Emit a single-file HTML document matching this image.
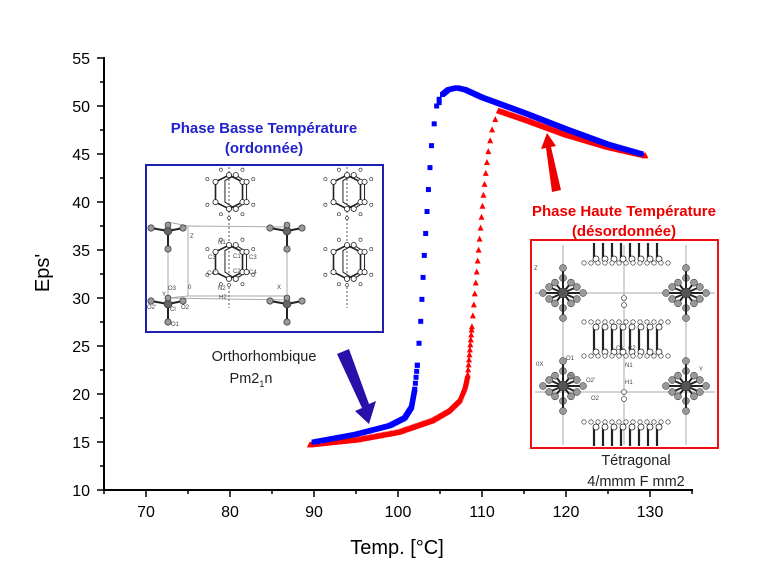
<!DOCTYPE html>
<html><head><meta charset="utf-8"><style>
html,body{margin:0;padding:0;background:#fff;width:770px;height:572px;overflow:hidden}
svg{display:block}
text{font-family:"Liberation Sans",sans-serif}
</style></head><body>
<svg id="s" width="770" height="572" viewBox="0 0 770 572" xmlns="http://www.w3.org/2000/svg">
<g id="axes" stroke="#000" stroke-width="2" fill="none">
<line x1="104" y1="57" x2="104" y2="491"/>
<line x1="103" y1="490" x2="693" y2="490"/>
</g>
<g id="ticks" stroke="#000" stroke-width="1.5"></g>
<g font-size="16" fill="#000" id="labels"></g>
<text x="397" y="554" font-size="20" text-anchor="middle">Temp. [°C]</text>
<text transform="translate(49,273) rotate(-90)" font-size="20" text-anchor="middle">Eps'</text>
<g id="data"></g>

<text x="264" y="133" font-size="15" font-weight="bold" fill="#2222cc" text-anchor="middle">Phase Basse Température</text>
<text x="264" y="153" font-size="15" font-weight="bold" fill="#2222cc" text-anchor="middle">(ordonnée)</text>
<rect x="146" y="165" width="237" height="167" fill="#fff" stroke="#2020b0" stroke-width="2"/>
<g stroke="#aaa" stroke-width="1" fill="none">
<polygon points="188,226 287,227 287,296 188,296"/>
<polyline points="168,222 188,226"/>
<line x1="168" y1="222" x2="168" y2="298"/>
<line x1="168" y1="298" x2="288" y2="300"/>
<line x1="188" y1="296" x2="168" y2="298"/>
</g>
<g stroke="#555" stroke-width="1" stroke-dasharray="2,2"><line x1="229" y1="167" x2="229" y2="308"/><line x1="347" y1="167" x2="347" y2="308"/></g>
<g id="benz" stroke="#222" stroke-width="1.6" fill="#fff"></g>
<g id="clo" stroke="#222" stroke-width="2"></g>
<g font-size="6" fill="#444">
<text x="190" y="238">Z</text><text x="218" y="244">N1</text><text x="208" y="259">C3'</text><text x="233" y="258">C1</text><text x="249" y="259">C3</text>
<text x="207" y="275">C4'</text><text x="233" y="273">C2</text><text x="249" y="274">C4</text><text x="188" y="289">0</text><text x="218" y="290">N2</text><text x="277" y="289">X</text>
<text x="219" y="299">H2</text><text x="168" y="290">O3</text><text x="162" y="296">Y</text><text x="147" y="309">O2'</text><text x="170" y="311">Cl</text><text x="181" y="309">O2</text><text x="171" y="326">O1</text>
</g>
<text x="264" y="361" font-size="14.5" fill="#222" text-anchor="middle">Orthorhombique</text>
<text x="251" y="383" font-size="14.5" fill="#222" text-anchor="middle">Pm2<tspan font-size="9" dy="4">1</tspan><tspan dy="-4">n</tspan></text>
<polygon points="337,354 349,349 369,404 376,401 369,424 355,411 362,408" fill="#2a0fa8"/>

<text x="624" y="216" font-size="15" font-weight="bold" fill="#ee0000" text-anchor="middle">Phase Haute Température</text>
<text x="624" y="236" font-size="15" font-weight="bold" fill="#ee0000" text-anchor="middle">(désordonnée)</text>
<rect x="531" y="240" width="187" height="208" fill="#fff" stroke="#ee1111" stroke-width="2"/>
<g stroke="#aaa" stroke-width="1"><line x1="563" y1="245" x2="563" y2="445"/><line x1="686" y1="245" x2="686" y2="445"/><line x1="535" y1="293" x2="715" y2="293"/><line x1="535" y1="392" x2="715" y2="392"/><line x1="624" y1="245" x2="624" y2="445"/></g>
<g id="red" stroke="#222" stroke-width="1.6"></g>
<g font-size="6" fill="#444"><text x="534" y="270">Z</text><text x="536" y="366">0X</text><text x="566" y="360">O1</text><text x="567" y="379">Cl</text><text x="586" y="382">O2'</text><text x="591" y="400">O2</text><text x="625" y="367">N1</text><text x="625" y="384">H1</text><text x="616" y="350">C1</text><text x="628" y="350">C2</text><text x="699" y="371">Y</text></g>
<text x="636" y="465" font-size="14.5" fill="#222" text-anchor="middle">Tétragonal</text>
<text x="636" y="486" font-size="14.5" fill="#222" text-anchor="middle">4/mmm F mm2</text>
<polygon points="561,190 552,192 546,148 541,149 547,133 556,146 551,147" fill="#ee0000"/>
</svg>
<script>
var NS="http://www.w3.org/2000/svg";
function X(v){return 146+(v-70)*8.4}function Y(v){return 490-(v-10)*9.6}
function el(p,t,a){var e=document.createElementNS(NS,t);for(var k in a)e.setAttribute(k,a[k]);p.appendChild(e);return e}
var tk=document.getElementById('ticks'),lb=document.getElementById('labels');
for(var v=65;v<=135;v+=5){var x=X(v),maj=v%10==0;el(tk,'line',{x1:x,y1:490,x2:x,y2:maj?497:494});
 if(maj&&v>=70&&v<=130){var t=el(lb,'text',{x:x,y:517,'text-anchor':'middle'});t.textContent=v}}
for(var v=10;v<=55;v+=2.5){var y=Y(v),maj=v%5==0;el(tk,'line',{x1:maj?97:100,y1:y,x2:104,y2:y});
 if(maj){var t=el(lb,'text',{x:90,y:y+6,'text-anchor':'end'});t.textContent=v}}
function walk(pts,step,cb){pts=pts.map(function(p){return[X(p[0]),Y(p[1])]});var carry=0;
 for(var i=0;i<pts.length-1;i++){var a=pts[i],b=pts[i+1],L=Math.hypot(b[0]-a[0],b[1]-a[1]),d=carry;
  while(d<L){cb(a[0]+(b[0]-a[0])*d/L,a[1]+(b[1]-a[1])*d/L);d+=step}carry=d-L}}
var D=document.getElementById('data');
function red(x,y){el(D,'polygon',{points:(x-3)+','+(y+2.5)+' '+(x+3)+','+(y+2.5)+' '+x+','+(y-3.5),fill:'#ff0000'})}
function blue(x,y){el(D,'rect',{x:x-2.5,y:y-2.5,width:5,height:5,fill:'#0000ff'})}
walk([[89.5,14.7],[95,15.2],[100,16],[104,17.2],[106,18.2],[107.3,19.3],[108,20.8],[108.3,22]],1.2,red);
walk([[108.3,22],[108.5,24],[108.8,27]],5,red);
walk([[108.8,27],[109.2,31],[109.7,36],[110.2,41],[110.7,45],[111.3,48],[112,49.5]],11,red);
walk([[112,49.5],[115,48.6],[120,47],[125,45.7],[129.5,44.8]],1.2,red);
walk([[90,15],[95,15.8],[99,16.7],[100.8,17.5],[101.6,18.6],[102,20.5]],1.2,blue);
walk([[102,20.5],[102.3,23]],6,blue);
walk([[102.3,23],[102.7,27.5],[103.1,34],[103.6,41],[104,46],[104.5,49.5],[105.3,51.2]],22,blue);
walk([[105.3,51.2],[106,51.7],[107,51.9],[108,51.7],[110,50.9],[115,49.3],[120,47.6],[125,46],[129,45]],1.2,blue);
blue(X(104.6),Y(50));blue(X(104.9),Y(50.7));
var B=document.getElementById('benz');
function ring(cx,cy){var s=1.35;function P(a){return a.map(function(p){return[cx+p[0]*s,cy+p[1]*s]}).map(String).join(' ')}
 el(B,'polygon',{points:P([[-10,-9],[0,-14],[10,-9],[10,6],[0,11],[-10,6]]),fill:'none'});
 el(B,'polygon',{points:P([[-3,-10],[5,-14],[13,-9],[13,6],[5,11],[-3,6]]),fill:'none','stroke-width':1});
 [[-10,-9],[0,-14],[10,-9],[10,6],[0,11],[-10,6],[5,-14],[13,-9],[13,6],[5,11]].forEach(function(p){el(B,'circle',{cx:cx+p[0]*s,cy:cy+p[1]*s,r:2.6,'stroke-width':0.8})});
 [[-16,-11],[18,-11],[-16,8],[18,8],[-6,-18],[10,-18],[-6,15],[10,15]].forEach(function(p){el(B,'circle',{cx:cx+p[0]*s,cy:cy+p[1]*s,r:1.6,'stroke-width':0.6})})}
ring(229,194);ring(347,194);ring(229,264);ring(347,264);
[[229,218],[229,285],[347,218],[347,285]].forEach(function(p){el(B,'circle',{cx:p[0],cy:p[1],r:1.5,'stroke-width':0.6})});
var C=document.getElementById('clo');
function clo(cx,cy){[[-17,-3],[15,-3],[0,18]].forEach(function(p){el(C,'line',{x1:cx,y1:cy,x2:cx+p[0],y2:cy+p[1]});el(C,'circle',{cx:cx+p[0],cy:cy+p[1],r:3.2,fill:'#999','stroke-width':0.6})});
 el(C,'circle',{cx:cx,cy:cy,r:4,fill:'#666','stroke-width':0.6});el(C,'circle',{cx:cx,cy:cy-6,r:3,fill:'#999','stroke-width':0.6})}
clo(168,231);clo(287,231);clo(168,304);clo(287,304);
var R=document.getElementById('red');
function star(cx,cy){for(var i=0;i<12;i++){var a=i*Math.PI/6,r=(i%3==0)?20:16;var x=cx+r*Math.cos(a),y=cy+r*Math.sin(a)*0.75;el(R,'line',{x1:cx,y1:cy,x2:x,y2:y,'stroke-width':2});el(R,'circle',{cx:x,cy:y,r:3.5,fill:'#999','stroke-width':0.5})}
 el(R,'line',{x1:cx,y1:cy-25,x2:cx,y2:cy+25,'stroke-width':2});
 [[0,-25],[0,25]].forEach(function(p){el(R,'circle',{cx:cx+p[0],cy:cy+p[1],r:3.5,fill:'#999','stroke-width':0.5})});
 el(R,'circle',{cx:cx,cy:cy,r:5,fill:'#555','stroke-width':0.5})}
star(563,293);star(686,293);star(563,386);star(686,386);
function layer(yt,yb,top,bot){for(var i=0;i<8;i++){var x=594+i*9;el(R,'line',{x1:x,y1:yt,x2:x,y2:yb,'stroke-width':2.2});
 if(top)el(R,'circle',{cx:x+2,cy:yt,r:3,fill:'#fff','stroke-width':0.8});if(bot)el(R,'circle',{cx:x+2,cy:yb,r:3,fill:'#fff','stroke-width':0.8})}}
function hrow(y){for(var i=0;i<13;i++)el(R,'circle',{cx:584+i*7,cy:y,r:2.2,fill:'#fff','stroke-width':0.6})}
layer(243,259,false,true);hrow(263);
hrow(322);layer(327,352,true,true);hrow(356);
hrow(422);layer(427,446,true,false);
[[624,298],[624,305],[624,392],[624,399]].forEach(function(p){el(R,'circle',{cx:p[0],cy:p[1],r:2.5,fill:'#fff','stroke-width':0.6})});
</script>
</body></html>
